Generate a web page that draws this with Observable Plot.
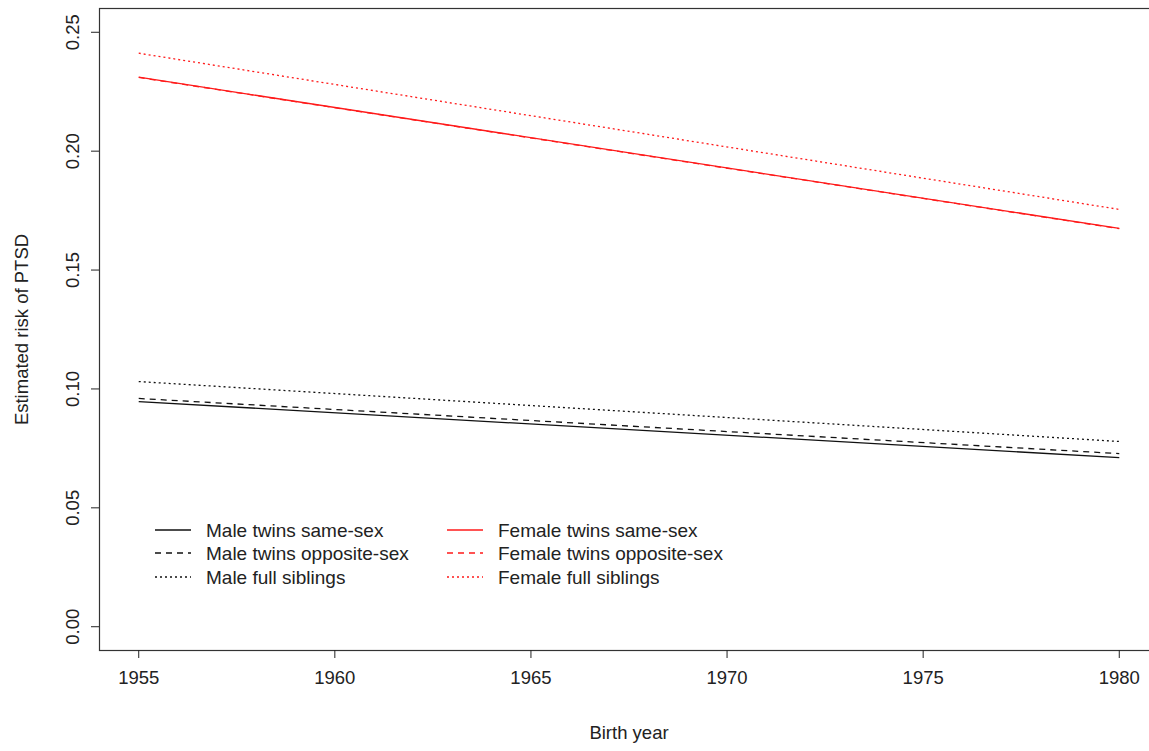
<!DOCTYPE html>
<html>
<head>
<meta charset="utf-8">
<script src="https://cdn.jsdelivr.net/npm/d3@7"></script>
<script src="https://cdn.jsdelivr.net/npm/@observablehq/plot@0.6"></script>
<style>
  html, body { margin: 0; padding: 0; background: #fff; overflow: hidden; }
  #chart svg { display: block; font-family: "Liberation Sans", Arial, sans-serif; }
</style>
</head>
<body>
<div id="chart"></div>
<script>
// Data (birth year vs. estimated risk of PTSD)
const years = [1955, 1980];
const seriesNames = [
  "Male twins same-sex",
  "Male twins opposite-sex",
  "Male full siblings",
  "Female twins same-sex",
  "Female twins opposite-sex",
  "Female full siblings"
];
const maleSameSex = [0.0947, 0.0711];
const maleOppositeSex = [0.0960, 0.0728];
const maleFullSiblings = [0.1031, 0.0779];
const femaleSameSex = [0.2311, 0.1675];
const femaleOppositeSex = [0.2310, 0.1674];
const femaleFullSiblings = [0.2412, 0.1755];
const yTicks = [0, 0.05, 0.10, 0.15, 0.20, 0.25];
const xTicks = [1955, 1960, 1965, 1970, 1975, 1980];

const seriesValues = [maleSameSex, maleOppositeSex, maleFullSiblings, femaleSameSex, femaleOppositeSex, femaleFullSiblings];
const seriesColor = ["#111", "#111", "#111", "#ff1a1a", "#ff1a1a", "#ff1a1a"];
const seriesDash = [null, "6,5", "2,3", null, "6,5", "2,3"];

const rows = [];
seriesNames.forEach((name, i) => {
  years.forEach((yr, j) => rows.push({series: name, year: yr, risk: seriesValues[i][j]}));
});

const lineMarks = seriesNames.map((name, i) =>
  Plot.line(rows.filter(d => d.series === name), {
    x: "year", y: "risk",
    stroke: seriesColor[i],
    strokeWidth: 1.3,
    strokeDasharray: seriesDash[i],
    strokeLinecap: "butt"
  })
);

const plot = Plot.plot({
  width: 1149,
  height: 751,
  marginLeft: 99,
  marginRight: -9,
  marginTop: 8,
  marginBottom: 101,
  style: {fontFamily: "Liberation Sans, Arial, sans-serif", fontSize: "18.5px", color: "#222", background: "#fff", overflow: "hidden"},
  x: {domain: [1954, 1981]},
  y: {domain: [-0.01, 0.26]},
  marks: [
    Plot.frame({stroke: "#333", strokeWidth: 1.2}),
    ...lineMarks,
    Plot.axisX({ticks: xTicks, tickFormat: d => String(d), tickSize: 8, tickPadding: 12,
      label: "Birth year", labelAnchor: "center", labelArrow: "none", labelOffset: 88, fontSize: 18.5}),
    Plot.axisY({ticks: yTicks, tickFormat: d3.format(".2f"), tickSize: 8, tickPadding: 13,
      tickRotate: -90, label: "Estimated risk of PTSD", labelAnchor: "center", labelArrow: "none",
      labelOffset: 85, fontSize: 18.5})
  ]
});

document.getElementById("chart").appendChild(plot);

// Legend (inside the plot area, lower left)
const svg = d3.select(plot);
const legend = svg.append("g")
  .attr("font-family", "Liberation Sans, Arial, sans-serif")
  .attr("font-size", 19)
  .attr("fill", "#222")
  .attr("text-anchor", "start");
const colX = [155, 447];
const rowY = [530, 553, 577];
seriesNames.forEach((name, i) => {
  const col = Math.floor(i / 3), row = i % 3;
  const x0 = colX[col], y0 = rowY[row];
  legend.append("line")
    .attr("x1", x0).attr("x2", x0 + 36).attr("y1", y0).attr("y2", y0)
    .attr("stroke", seriesColor[i]).attr("stroke-width", 1.4)
    .attr("stroke-dasharray", seriesDash[i]);
  legend.append("text")
    .attr("x", x0 + 51).attr("y", y0).attr("dy", "0.35em")
    .attr("text-anchor", "start")
    .text(name);
});
</script>
</body>
</html>
